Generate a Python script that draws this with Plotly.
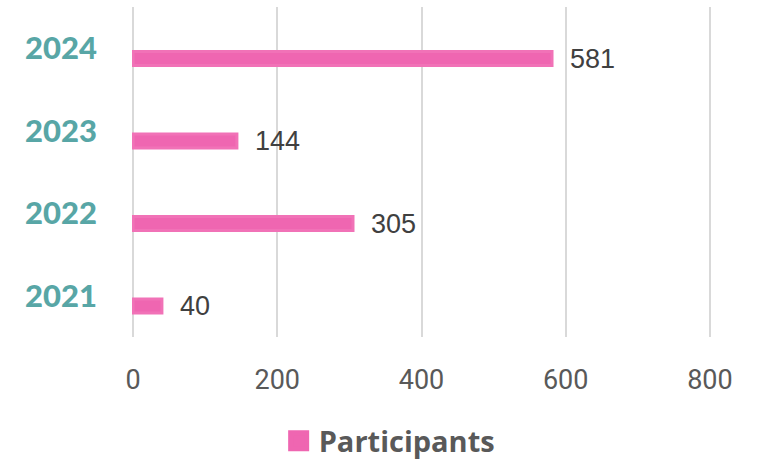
import plotly.graph_objects as go

years = ["2021", "2022", "2023", "2024"]
participants = [40, 305, 144, 581]
x_ticks = [0, 200, 400, 600, 800]
series_name = "Participants"

pink = "#EF66B1"
pink_edge = "#F172B7"
teal = "#58A6A6"

fig = go.Figure()
fig.add_trace(go.Bar(
    y=years, x=participants, orientation="h",
    marker=dict(color=pink, line=dict(width=3, color=pink_edge)),
    width=0.17, offset=-0.21,
    text=participants, texttemplate="\u00a0\u00a0%{x}",
    textposition="outside", constraintext="none", cliponaxis=False,
    textfont=dict(family="Liberation Sans, Arial", size=27, color="#404040"),
    showlegend=False, hoverinfo="skip",
))
fig.add_trace(go.Scatter(
    x=[None], y=[None], mode="markers", name=series_name,
    marker=dict(symbol="square", size=16, color=pink, line=dict(color=pink, width=5)),
    showlegend=True,
))

fig.update_layout(
    width=761, height=462,
    margin=dict(l=132, r=50, t=7, b=125, autoexpand=False),
    plot_bgcolor="white", paper_bgcolor="white",
    xaxis=dict(
        range=[-1.5, 801.5], tickvals=x_ticks, showgrid=True, gridcolor="#D9D9D9", gridwidth=1.5,
        zeroline=False, showline=False, ticks="",
        tickfont=dict(family="Roboto", size=27, color="#595959"),
        ticklabelstandoff=24, fixedrange=True,
    ),
    yaxis=dict(
        type="category", categoryorder="array", categoryarray=years, range=[-0.5, 3.5],
        showgrid=False, zeroline=False, showline=False, ticks="",
        tickfont=dict(family="Lato", size=31, color=teal, weight=900),
        ticklabelstandoff=34, fixedrange=True,
    ),
    legend=dict(
        orientation="h", x=0.445, xanchor="center", y=-0.315, yanchor="middle",
        font=dict(family="Open Sans", size=29, color="#595959", weight="bold"),
        bgcolor="rgba(0,0,0,0)", borderwidth=0, tracegroupgap=0,
    ),
    showlegend=True,
)

fig.write_html("out.html")
